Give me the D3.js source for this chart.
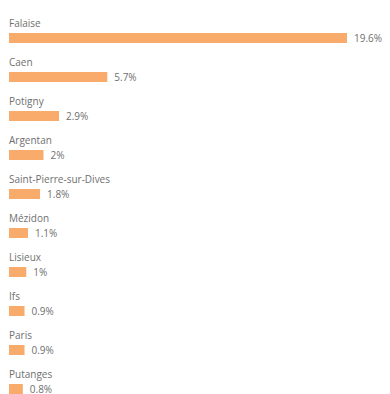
<!DOCTYPE html>
<html>
<head>
<meta charset="utf-8">
<script src="https://cdn.jsdelivr.net/npm/d3@7"></script>
<style>
  html, body { margin: 0; padding: 0; background: #fff; }
  svg { display: block; }
  text { font-family: "Open Sans", "Noto Sans", sans-serif; }
</style>
</head>
<body>
<svg id="chart" width="390" height="394"></svg>
<script>
// Share of respondents by commune (percent)
const communes = ["Falaise", "Caen", "Potigny", "Argentan", "Saint-Pierre-sur-Dives",
                  "Mézidon", "Lisieux", "Ifs", "Paris", "Putanges"];
const shares = [19.6, 5.7, 2.9, 2, 1.8, 1.1, 1, 0.9, 0.9, 0.8];
const shareLabels = ["19.6%", "5.7%", "2.9%", "2%", "1.8%", "1.1%", "1%", "0.9%", "0.9%", "0.8%"];

const rows = communes.map((c, i) => ({ name: c, value: shares[i], label: shareLabels[i] }));

const svg = d3.select("#chart");

const x = d3.scaleLinear().domain([0, 19.6]).range([9, 347]);
const y = d3.scaleBand().domain(communes).range([13, 13 + 39 * communes.length]).padding(0);

const barH = 10;

const g = svg.selectAll("g.row").data(rows).join("g")
  .attr("class", "row")
  .attr("transform", d => `translate(0,${y(d.name)})`);

g.append("text")
  .attr("x", 9)
  .attr("y", 14)
  .attr("font-size", 10)
  .attr("fill", "#6f6f6f")
  .text(d => d.name);

g.append("rect")
  .attr("x", x(0))
  .attr("y", 20)
  .attr("width", d => x(d.value) - x(0))
  .attr("height", barH)
  .attr("fill", "#f9ab6c");

g.append("text")
  .attr("x", d => x(d.value) + 7)
  .attr("y", 20 + barH / 2)
  .attr("dy", "0.35em")
  .attr("font-size", 10)
  .attr("fill", "#6f6f6f")
  .text(d => d.label);
</script>
</body>
</html>
